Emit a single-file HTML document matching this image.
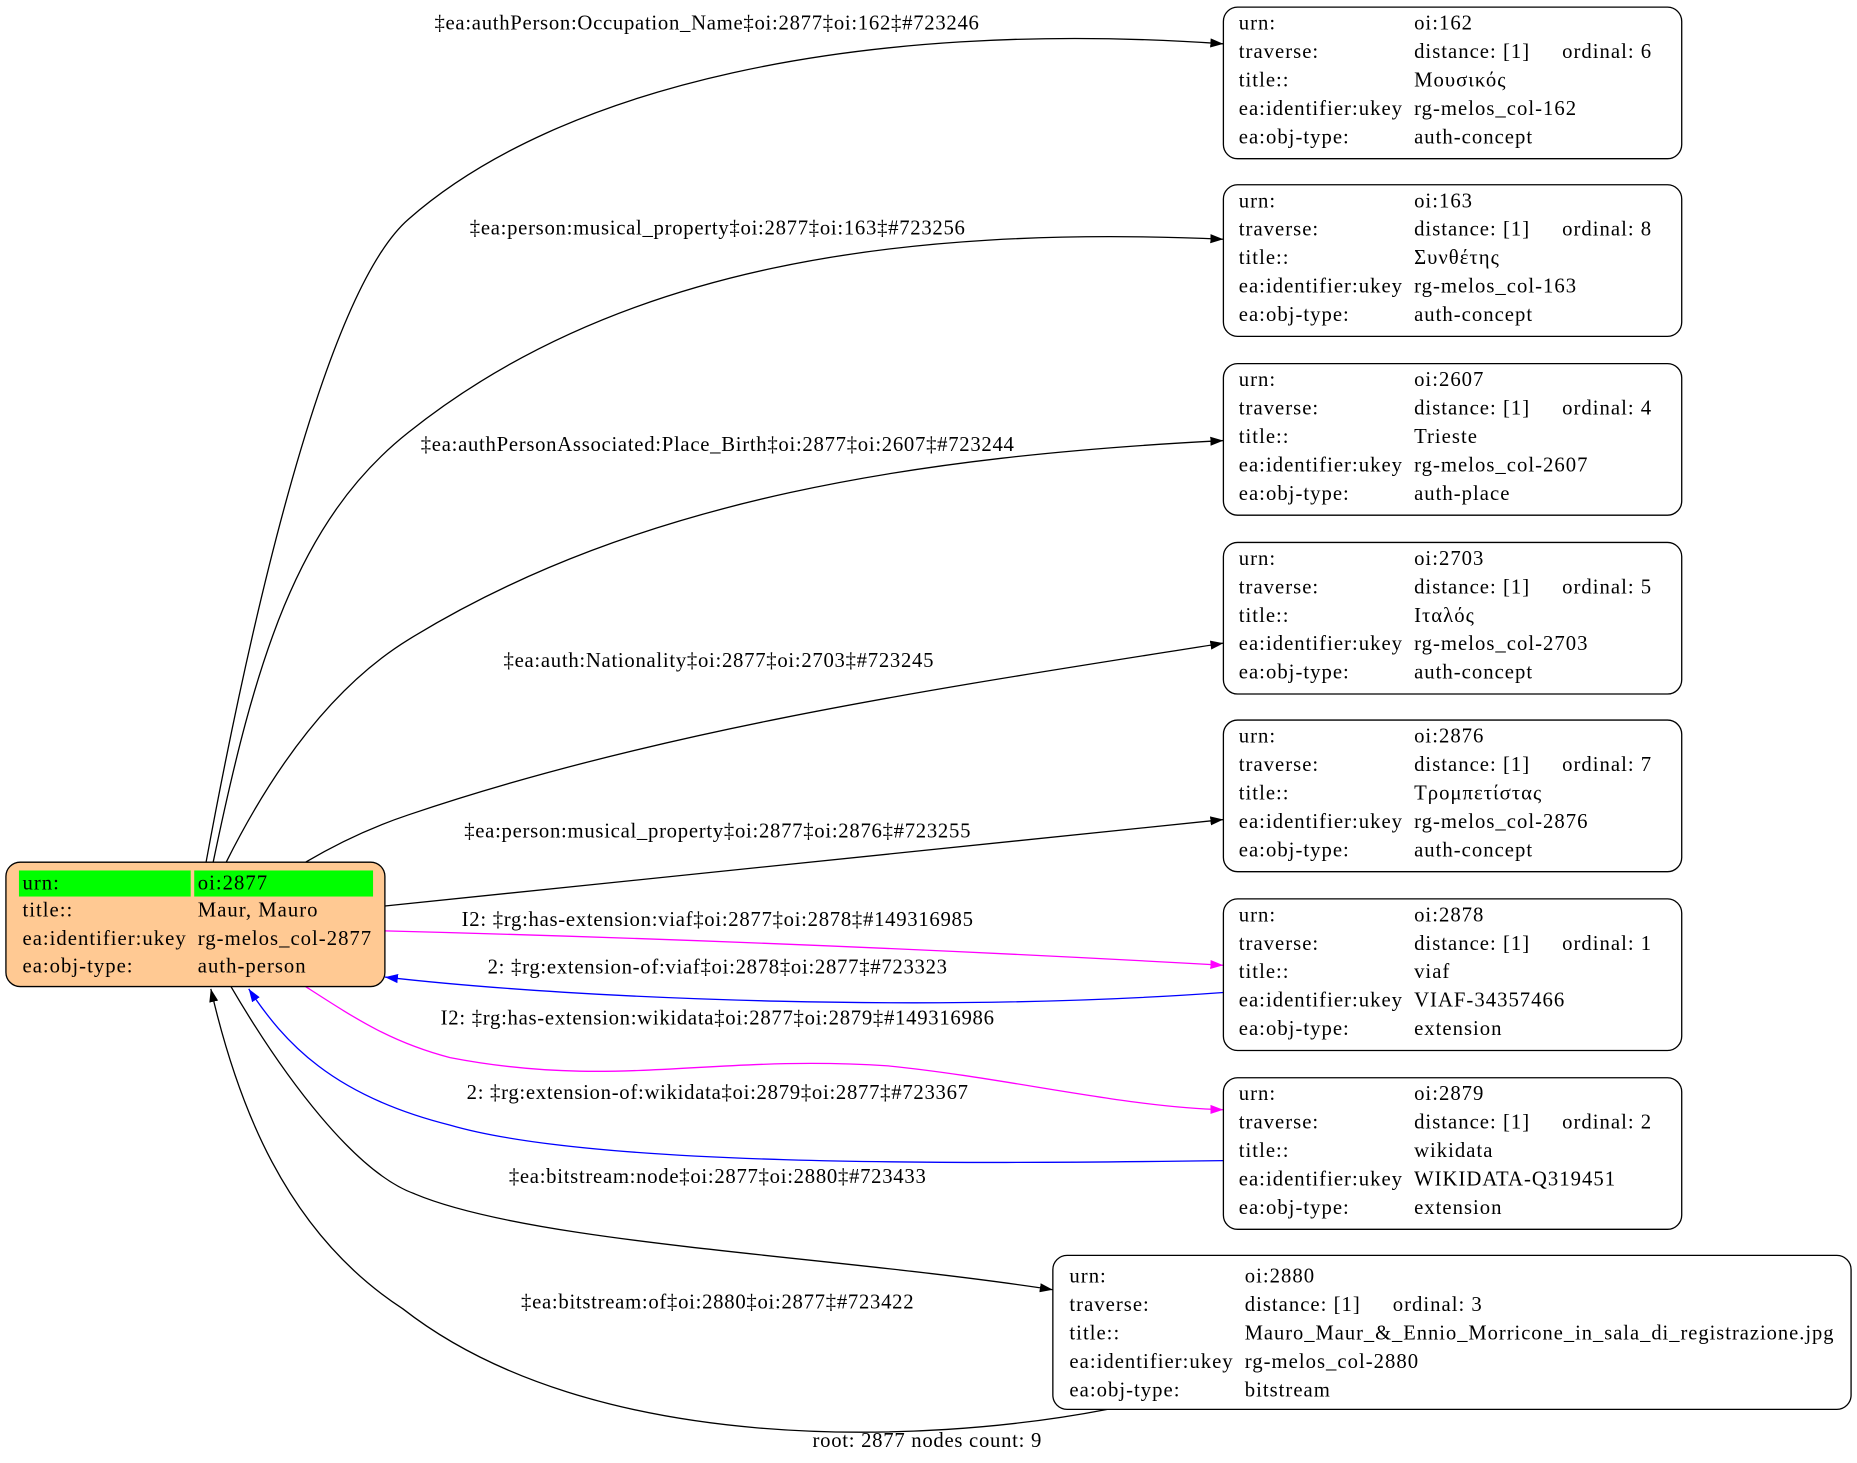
<!DOCTYPE html>
<html><head><meta charset="utf-8"><style>
html,body{margin:0;padding:0;background:#fff;}
svg{display:block;}
text{font-family:"Liberation Serif",serif;font-size:17.5px;letter-spacing:0.85px;fill:#000;}
g.lbl text{letter-spacing:0.6px;}
</style></head><body>
<svg width="1857" height="1463" viewBox="0 0 1568 1235.3" xmlns="http://www.w3.org/2000/svg">
<defs>
<marker id="ak" viewBox="0 0 10 10" refX="10" refY="5" markerWidth="11" markerHeight="11" markerUnits="userSpaceOnUse" orient="auto"><path d="M0,1.5 L10,5 L0,8.5 Z" fill="#000"/></marker>
<marker id="am" viewBox="0 0 10 10" refX="10" refY="5" markerWidth="11" markerHeight="11" markerUnits="userSpaceOnUse" orient="auto"><path d="M0,1.5 L10,5 L0,8.5 Z" fill="#f0f"/></marker>
<marker id="ab" viewBox="0 0 10 10" refX="10" refY="5" markerWidth="11" markerHeight="11" markerUnits="userSpaceOnUse" orient="auto"><path d="M0,1.5 L10,5 L0,8.5 Z" fill="#00f"/></marker>
</defs>
<g fill="none" stroke-width="1.1">
<path d="M174,728 C205,560 270,250 345,185 C470,75 720,15 1033,37" stroke="#000" marker-end="url(#ak)"/>
<path d="M180,728 C215,560 250,440 345,365 C520,225 760,190 1033,202" stroke="#000" marker-end="url(#ak)"/>
<path d="M191,728 C230,650 280,580 345,540 C540,420 780,385 1033,372" stroke="#000" marker-end="url(#ak)"/>
<path d="M258,728 C285,712 315,698 345,688 C560,615 800,580 1033,543" stroke="#000" marker-end="url(#ak)"/>
<path d="M325,765 L1033,692" stroke="#000" marker-end="url(#ak)"/>
<path d="M325,786 C560,792 800,802 1033,815" stroke="#f0f" marker-end="url(#am)"/>
<path d="M1033,838 C800,855 500,845 325,825" stroke="#00f" marker-end="url(#ab)"/>
<path d="M258,833 C300,860 330,880 380,893 C520,920 600,890 750,900 C850,910 950,935 1033,937" stroke="#f0f" marker-end="url(#am)"/>
<path d="M1033,980 C800,983 500,985 380,950 C280,925 240,880 210,835" stroke="#00f" marker-end="url(#ab)"/>
<path d="M195,833 C240,910 300,990 350,1008 C450,1050 700,1060 889,1089" stroke="#000" marker-end="url(#ak)"/>
<path d="M935,1190 C780,1220 500,1230 340,1105 C240,1040 200,930 178,835" stroke="#000" marker-end="url(#ak)"/>
</g>
<g text-anchor="middle" class="lbl">
<text x="597" y="25">‡ea:authPerson:Occupation_Name‡oi:2877‡oi:162‡#723246</text>
<text x="606" y="198">‡ea:person:musical_property‡oi:2877‡oi:163‡#723256</text>
<text x="606" y="381">‡ea:authPersonAssociated:Place_Birth‡oi:2877‡oi:2607‡#723244</text>
<text x="607" y="563">‡ea:auth:Nationality‡oi:2877‡oi:2703‡#723245</text>
<text x="606" y="707">‡ea:person:musical_property‡oi:2877‡oi:2876‡#723255</text>
<text x="606" y="782">I2: ‡rg:has-extension:viaf‡oi:2877‡oi:2878‡#149316985</text>
<text x="606" y="822">2: ‡rg:extension-of:viaf‡oi:2878‡oi:2877‡#723323</text>
<text x="606" y="865">I2: ‡rg:has-extension:wikidata‡oi:2877‡oi:2879‡#149316986</text>
<text x="606" y="928">2: ‡rg:extension-of:wikidata‡oi:2879‡oi:2877‡#723367</text>
<text x="606" y="999">‡ea:bitstream:node‡oi:2877‡oi:2880‡#723433</text>
<text x="606" y="1105">‡ea:bitstream:of‡oi:2880‡oi:2877‡#723422</text>
<text x="783" y="1222">root: 2877 nodes count: 9</text>
</g>
<rect x="5" y="728" width="320" height="105" rx="12" fill="#ffc993" stroke="#000" stroke-width="1.1"/>
<rect x="16" y="735" width="145" height="22" fill="#00ff00"/>
<rect x="164" y="735" width="151" height="22" fill="#00ff00"/>
<text x="19" y="751">urn:</text><text x="167" y="751">oi:2877</text>
<text x="19" y="774">title::</text><text x="167" y="774">Maur, Mauro</text>
<text x="19" y="798">ea:identifier:ukey</text><text x="167" y="798">rg-melos_col-2877</text>
<text x="19" y="821">ea:obj-type:</text><text x="167" y="821">auth-person</text>
<g>
<rect x="1033" y="6" width="387" height="128" rx="12" fill="#fff" stroke="#000" stroke-width="1.1"/>
<text x="1046" y="25">urn:</text><text x="1194" y="25">oi:162</text>
<text x="1046" y="49">traverse:</text><text x="1194" y="49">distance: [1]</text><text x="1319" y="49">ordinal: 6</text>
<text x="1046" y="73">title::</text><text x="1194" y="73">Μουσικός</text>
<text x="1046" y="97">ea:identifier:ukey</text><text x="1194" y="97">rg-melos_col-162</text>
<text x="1046" y="121">ea:obj-type:</text><text x="1194" y="121">auth-concept</text>
</g>
<g>
<rect x="1033" y="156" width="387" height="128" rx="12" fill="#fff" stroke="#000" stroke-width="1.1"/>
<text x="1046" y="175">urn:</text><text x="1194" y="175">oi:163</text>
<text x="1046" y="199">traverse:</text><text x="1194" y="199">distance: [1]</text><text x="1319" y="199">ordinal: 8</text>
<text x="1046" y="223">title::</text><text x="1194" y="223">Συνθέτης</text>
<text x="1046" y="247">ea:identifier:ukey</text><text x="1194" y="247">rg-melos_col-163</text>
<text x="1046" y="271">ea:obj-type:</text><text x="1194" y="271">auth-concept</text>
</g>
<g>
<rect x="1033" y="307" width="387" height="128" rx="12" fill="#fff" stroke="#000" stroke-width="1.1"/>
<text x="1046" y="326">urn:</text><text x="1194" y="326">oi:2607</text>
<text x="1046" y="350">traverse:</text><text x="1194" y="350">distance: [1]</text><text x="1319" y="350">ordinal: 4</text>
<text x="1046" y="374">title::</text><text x="1194" y="374">Trieste</text>
<text x="1046" y="398">ea:identifier:ukey</text><text x="1194" y="398">rg-melos_col-2607</text>
<text x="1046" y="422">ea:obj-type:</text><text x="1194" y="422">auth-place</text>
</g>
<g>
<rect x="1033" y="458" width="387" height="128" rx="12" fill="#fff" stroke="#000" stroke-width="1.1"/>
<text x="1046" y="477">urn:</text><text x="1194" y="477">oi:2703</text>
<text x="1046" y="501">traverse:</text><text x="1194" y="501">distance: [1]</text><text x="1319" y="501">ordinal: 5</text>
<text x="1046" y="525">title::</text><text x="1194" y="525">Ιταλός</text>
<text x="1046" y="549">ea:identifier:ukey</text><text x="1194" y="549">rg-melos_col-2703</text>
<text x="1046" y="573">ea:obj-type:</text><text x="1194" y="573">auth-concept</text>
</g>
<g>
<rect x="1033" y="608" width="387" height="128" rx="12" fill="#fff" stroke="#000" stroke-width="1.1"/>
<text x="1046" y="627">urn:</text><text x="1194" y="627">oi:2876</text>
<text x="1046" y="651">traverse:</text><text x="1194" y="651">distance: [1]</text><text x="1319" y="651">ordinal: 7</text>
<text x="1046" y="675">title::</text><text x="1194" y="675">Τρομπετίστας</text>
<text x="1046" y="699">ea:identifier:ukey</text><text x="1194" y="699">rg-melos_col-2876</text>
<text x="1046" y="723">ea:obj-type:</text><text x="1194" y="723">auth-concept</text>
</g>
<g>
<rect x="1033" y="759" width="387" height="128" rx="12" fill="#fff" stroke="#000" stroke-width="1.1"/>
<text x="1046" y="778">urn:</text><text x="1194" y="778">oi:2878</text>
<text x="1046" y="802">traverse:</text><text x="1194" y="802">distance: [1]</text><text x="1319" y="802">ordinal: 1</text>
<text x="1046" y="826">title::</text><text x="1194" y="826">viaf</text>
<text x="1046" y="850">ea:identifier:ukey</text><text x="1194" y="850">VIAF-34357466</text>
<text x="1046" y="874">ea:obj-type:</text><text x="1194" y="874">extension</text>
</g>
<g>
<rect x="1033" y="910" width="387" height="128" rx="12" fill="#fff" stroke="#000" stroke-width="1.1"/>
<text x="1046" y="929">urn:</text><text x="1194" y="929">oi:2879</text>
<text x="1046" y="953">traverse:</text><text x="1194" y="953">distance: [1]</text><text x="1319" y="953">ordinal: 2</text>
<text x="1046" y="977">title::</text><text x="1194" y="977">wikidata</text>
<text x="1046" y="1001">ea:identifier:ukey</text><text x="1194" y="1001">WIKIDATA-Q319451</text>
<text x="1046" y="1025">ea:obj-type:</text><text x="1194" y="1025">extension</text>
</g>
<g>
<rect x="889" y="1060" width="674" height="130" rx="12" fill="#fff" stroke="#000" stroke-width="1.1"/>
<text x="903" y="1083">urn:</text><text x="1051" y="1083">oi:2880</text>
<text x="903" y="1107">traverse:</text><text x="1051" y="1107">distance: [1]</text><text x="1176" y="1107">ordinal: 3</text>
<text x="903" y="1131">title::</text><text x="1051" y="1131" textLength="498" lengthAdjust="spacingAndGlyphs">Mauro_Maur_&amp;_Ennio_Morricone_in_sala_di_registrazione.jpg</text>
<text x="903" y="1155">ea:identifier:ukey</text><text x="1051" y="1155">rg-melos_col-2880</text>
<text x="903" y="1179">ea:obj-type:</text><text x="1051" y="1179">bitstream</text>
</g>
</svg>
</body></html>
